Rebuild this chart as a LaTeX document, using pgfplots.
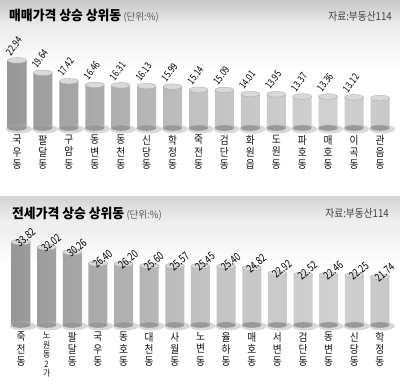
\documentclass[border=0pt]{standalone}
\usepackage{fontspec}
\setmainfont{Noto Sans CJK KR}
\newfontfamily\kr{Noto Sans CJK KR}
\newfontfamily\krt[FakeStretch=0.95]{Noto Sans CJK KR}
\newfontfamily\krc[FakeStretch=0.88]{Noto Sans CJK KR}
\newfontfamily\num[FakeStretch=0.78]{Noto Sans CJK KR}
\newcommand\sm{\fontsize{8.8}{9}\selectfont}
\usepackage{pgfplots}
\pgfplotsset{compat=1.18}
\usepackage{pgfplotstable}

\pgfdeclarehorizontalshading{cyl}{100bp}{color(0bp)=(black!60); color(20bp)=(black!44); color(50bp)=(black!24); color(68bp)=(black!18); color(88bp)=(black!28); color(100bp)=(black!46)}
\pgfdeclareplotmark{cyltop}{\pgfpathellipse{\pgfpointorigin}{\pgfqpoint{9.5pt}{0pt}}{\pgfqpoint{0pt}{2.8pt}}\pgfusepathqfillstroke}
\pgfdeclareplotmark{cylbot}{\pgfpathellipse{\pgfpointorigin}{\pgfqpoint{9.5pt}{0pt}}{\pgfqpoint{0pt}{2.8pt}}\pgfusepathqfill}
\pgfdeclareplotmark{cylshadow}{\pgfpathellipse{\pgfqpoint{2pt}{-1pt}}{\pgfqpoint{13pt}{0pt}}{\pgfqpoint{0pt}{4.5pt}}\pgfusepathqfill}

\pgfplotstableread{
x v
0 22.94
1 19.64
2 17.42
3 16.46
4 16.31
5 16.13
6 15.99
7 15.14
8 15.09
9 14.01
10 13.95
11 13.37
12 13.36
13 13.12
14 12.95
}\topdata

\pgfplotstableread{
x v
0 33.82
1 32.02
2 30.26
3 26.40
4 26.20
5 25.60
6 25.57
7 25.45
8 25.40
9 24.82
10 22.92
11 22.52
12 22.46
13 22.25
14 21.74
}\botdata

\pgfplotsset{
  cylaxis/.style={
    scale only axis, width=400pt, height=100pt, ymin=0, clip=false,
    axis line style={draw=none}, ytick=\empty, xtick={0,...,14},
    major tick length=0pt,
    xticklabel style={align=center, inner sep=0pt, text=black!92,
      font=\krc\fontsize{11}{12.3}\selectfont},
  },
}

\begin{document}
\begin{tikzpicture}
\fill[white] (0,0) rectangle (400pt,-389pt);
\useasboundingbox (0,0) rectangle (400pt,-389pt);
\shade[top color=black!22, bottom color=black!6] (0,0) rectangle (400pt,-27pt);
\shade[top color=black!7, bottom color=white] (0,-27pt) rectangle (400pt,-70pt);
\shade[top color=black!17, bottom color=black!5] (0,-196pt) rectangle (400pt,-225pt);
\shade[top color=black!7, bottom color=white] (0,-225pt) rectangle (400pt,-265pt);

\node[anchor=base west, inner sep=0pt] at (9pt,-20pt)
  {\krt\bfseries\fontsize{13.5}{14}\selectfont 매매가격 상승 상위동\,{\mdseries\fontsize{10}{10}\selectfont\color{black!65}(단위:\%)}};
\node[anchor=base east, inner sep=0pt, text=black!75] at (392pt,-20pt)
  {\krc\fontsize{11}{11}\selectfont 자료:부동산114};
\node[anchor=base west, inner sep=0pt] at (12pt,-218pt)
  {\krt\bfseries\fontsize{13.5}{14}\selectfont 전세가격 상승 상위동\,{\mdseries\fontsize{10}{10}\selectfont\color{black!65}(단위:\%)}};
\node[anchor=base east, inner sep=0pt, text=black!75] at (389pt,-217pt)
  {\krc\fontsize{11}{11}\selectfont 자료:부동산114};

\begin{axis}[cylaxis, at={(0pt,-128pt)}, anchor=south west,
  xmin=-0.6556, xmax=14.77, ymax=26.53,
  xticklabel style={yshift=-7pt},
  xticklabels={{국\\우\\동},{팔\\달\\동},{구\\암\\동},{동\\변\\동},{동\\천\\동},{신\\당\\동},{학\\정\\동},{죽\\전\\동},{검\\단\\동},{화\\원\\읍},{도\\원\\동},{파\\호\\동},{매\\호\\동},{이\\곡\\동},{관\\음\\동}}]
\addplot[only marks, mark=cylshadow, mark options={fill=black!25, opacity=0.6}] table[x=x, y expr=0] {\topdata};
\addplot[only marks, mark=cylbot, mark options={fill=black!40}] table[x=x, y expr=0] {\topdata};
\addplot[ybar, bar width=19pt, draw=none, shade, shading=cyl] table[x=x, y expr=\thisrow{v}-5] {\topdata};
\addplot[only marks, mark=cyltop, mark options={fill=black!15, draw=black!35, line width=0.3pt}] table[x=x, y expr=\thisrow{v}-5] {\topdata};
\addplot[draw=none, mark=none, restrict x to domain=0:13,
  nodes near coords={\pgfmathprintnumber[fixed,fixed zerofill,precision=2,assume math mode=true]{\pgfplotspointmeta}},
  point meta=\thisrow{v},
  every node near coord/.style={anchor=south west, inner sep=0pt, xshift=-6pt, yshift=4pt, rotate=53, font=\num\fontsize{10}{10}\selectfont}]
  table[x=x, y expr=\thisrow{v}-5] {\topdata};
\end{axis}

\begin{axis}[cylaxis, at={(0pt,-325pt)}, anchor=south west,
  xmin=-0.819, xmax=14.782, ymax=34.72,
  xticklabel style={yshift=-7pt},
  xticklabels={{죽\\전\\동},{\sm 노\\[-2.8pt]\sm 원\\[-2.8pt]\sm 동\\[-2.8pt]\sm 2\\[-2.8pt]\sm 가},{팔\\달\\동},{국\\우\\동},{동\\호\\동},{대\\천\\동},{사\\월\\동},{노\\변\\동},{율\\하\\동},{매\\호\\동},{서\\변\\동},{검\\단\\동},{동\\변\\동},{신\\당\\동},{학\\정\\동}}]
\addplot[only marks, mark=cylshadow, mark options={fill=black!25, opacity=0.6}] table[x=x, y expr=0] {\botdata};
\addplot[only marks, mark=cylbot, mark options={fill=black!40}] table[x=x, y expr=0] {\botdata};
\addplot[ybar, bar width=19pt, draw=none, shade, shading=cyl] table[x=x, y expr=\thisrow{v}-5] {\botdata};
\addplot[only marks, mark=cyltop, mark options={fill=black!15, draw=black!35, line width=0.3pt}] table[x=x, y expr=\thisrow{v}-5] {\botdata};
\addplot[draw=none, mark=none,
  nodes near coords={\pgfmathprintnumber[fixed,fixed zerofill,precision=2,assume math mode=true]{\pgfplotspointmeta}},
  point meta=\thisrow{v},
  every node near coord/.style={anchor=south west, inner sep=0pt, xshift=-1pt, yshift=-6pt, rotate=40, font=\num\fontsize{11}{11}\selectfont}]
  table[x=x, y expr=\thisrow{v}-5] {\botdata};
\end{axis}
\end{tikzpicture}
\end{document}
